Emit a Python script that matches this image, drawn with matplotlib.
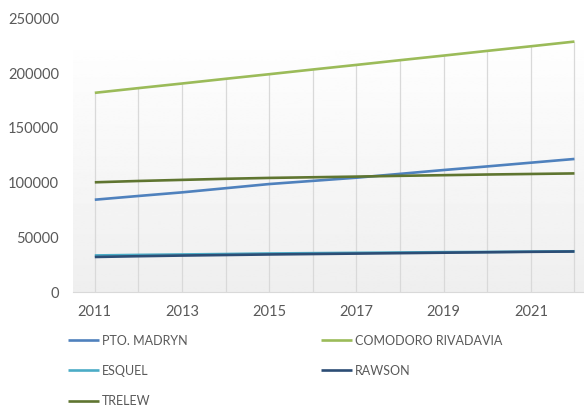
import matplotlib.pyplot as plt
import numpy as np

years = [2011, 2012, 2013, 2014, 2015, 2016, 2017, 2018, 2019, 2020, 2021, 2022]
pto_madryn = [84400, 87800, 91100, 94900, 98700, 101600, 104500, 108000, 111500, 114800, 118200, 121600]
comodoro = [182000, 186300, 190500, 194800, 199000, 203300, 207500, 211800, 216000, 220300, 224500, 228800]
esquel = [33500, 34000, 34400, 34800, 35300, 35600, 35900, 36200, 36500, 36700, 37000, 37300]
rawson = [32100, 32800, 33400, 33900, 34400, 34800, 35200, 35600, 36000, 36400, 36800, 37100]
trelew = [100300, 101500, 102500, 103500, 104300, 104900, 105500, 106200, 106800, 107400, 107900, 108400]

series = [
    ("PTO. MADRYN", pto_madryn, "#4F81BD"),
    ("COMODORO RIVADAVIA", comodoro, "#9BBB59"),
    ("ESQUEL", esquel, "#4BACC6"),
    ("RAWSON", rawson, "#2C4D75"),
    ("TRELEW", trelew, "#5F7530"),
]

plt.rcParams['font.family'] = ['Lato', 'DejaVu Sans']
txt = '#595959'

fig = plt.figure(figsize=(5.84, 4.08), dpi=100)
ax = fig.add_axes([0.125, 0.284, 0.896, 0.671])

# plot area fill: white at the top fading to light gray
grad = np.concatenate([np.ones(30), np.linspace(0.995, 0.935, 226)]).reshape(-1, 1)
ax.imshow(grad, extent=[0, 1, 0, 1], transform=ax.transAxes, aspect='auto',
          cmap='gray', vmin=0, vmax=1, zorder=0)

# drop lines from the highest series down to the axis
top = np.max([s[1] for s in series], axis=0)
ax.vlines(years, 0, top, color='#D9D9D9', lw=0.9, zorder=1)

handles = {}
for name, vals, col in series:
    h, = ax.plot(years, vals, color=col, lw=1.9, label=name, zorder=3,
                 solid_capstyle='butt')
    handles[name] = h

ax.set_xlim(2010.5, 2022.5)
ax.set_ylim(0, 250000)
ax.set_xticks(years)
ax.set_xticklabels([str(y) if y % 2 == 1 else '' for y in years])
ax.set_yticks(np.arange(0, 250001, 50000))
ax.tick_params(axis='both', length=0, labelsize=10.5, labelcolor=txt)
ax.tick_params(axis='x', pad=9)
ax.tick_params(axis='y', pad=10)
for s in ['top', 'right', 'left']:
    ax.spines[s].set_visible(False)
ax.spines['bottom'].set_color('#D9D9D9')

order = ["PTO. MADRYN", "ESQUEL", "TRELEW", "COMODORO RIVADAVIA", "RAWSON"]
fig.legend([handles[n] for n in order], order, ncol=2, frameon=False,
           loc='upper left', bbox_to_anchor=(0.108, 0.192),
           fontsize=9, labelcolor=txt, handlelength=2.5, handletextpad=0.2,
           columnspacing=10.7, labelspacing=1.45, borderaxespad=0)

fig.savefig('out.png', dpi=100)
